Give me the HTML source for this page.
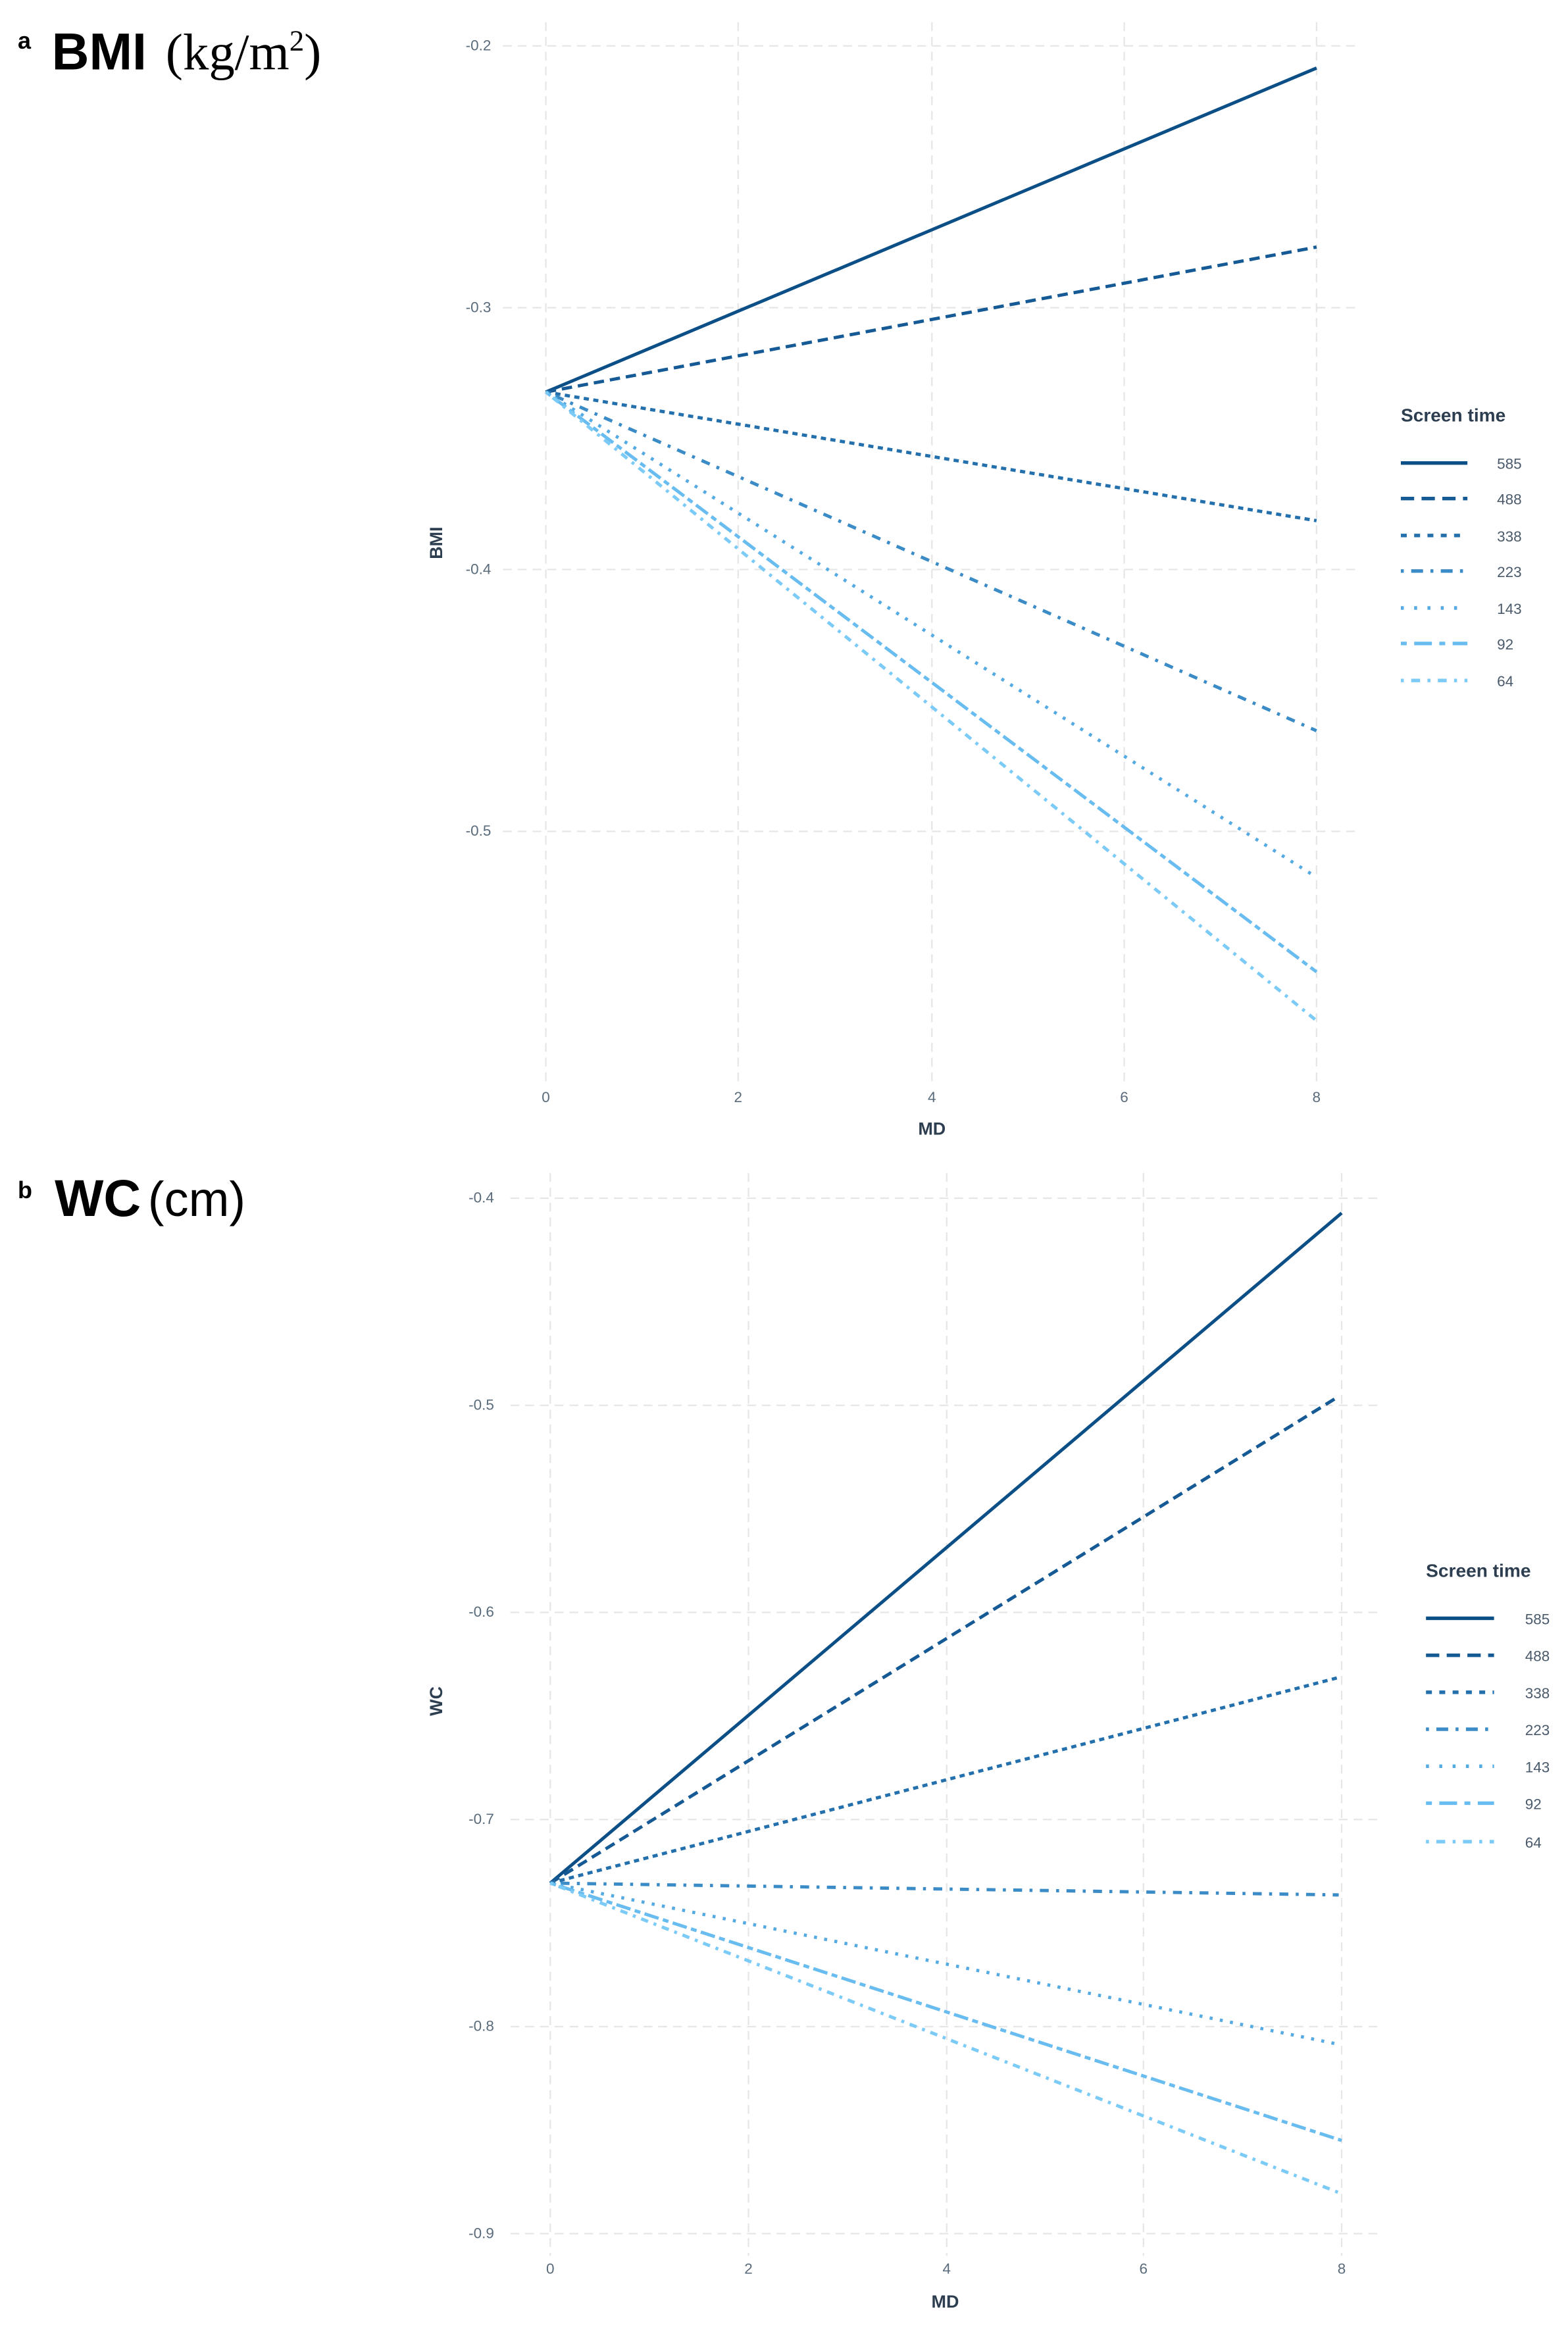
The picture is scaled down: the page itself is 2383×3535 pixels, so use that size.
<!DOCTYPE html>
<html><head><meta charset="utf-8"><style>
html,body{margin:0;padding:0;background:#fff;}
svg{display:block;}
</style></head><body>
<svg width="2383" height="3535" viewBox="0 0 1060 1572.4" xmlns="http://www.w3.org/2000/svg">
<rect width="1060" height="1572.4" fill="#fff"/>
<text x="12" y="33" font-family="Liberation Sans, sans-serif" font-weight="bold" font-size="16" fill="#000">a</text>
<text x="35" y="47" font-family="Liberation Sans, sans-serif" font-weight="bold" font-size="35" fill="#000">BMI</text>
<text x="112" y="47" font-family="Liberation Serif, serif" font-size="35" fill="#000">(kg/m<tspan font-size="20" dy="-13">2</tspan><tspan dy="13">)</tspan></text>
<text x="12" y="810" font-family="Liberation Sans, sans-serif" font-weight="bold" font-size="16" fill="#000">b</text>
<text x="37" y="822" font-family="Liberation Sans, sans-serif" font-weight="bold" font-size="35" fill="#000">WC</text>
<text x="100" y="822" font-family="Liberation Sans, sans-serif" font-size="33" fill="#000">(cm)</text>

<g font-family="Liberation Sans, sans-serif">
<g stroke="#e6e6e6" stroke-width="1" stroke-dasharray="6 4" fill="none">
<line x1="369" y1="15" x2="369" y2="732"/><line x1="499" y1="15" x2="499" y2="732"/>
<line x1="630" y1="15" x2="630" y2="732"/><line x1="760" y1="15" x2="760" y2="732"/>
<line x1="890" y1="15" x2="890" y2="732"/>
<line x1="340" y1="31" x2="918" y2="31"/><line x1="340" y1="208" x2="918" y2="208"/>
<line x1="340" y1="385" x2="918" y2="385"/><line x1="340" y1="562" x2="918" y2="562"/>
</g>
<g font-size="10" fill="#5a6b7b" text-anchor="end">
<text x="332" y="34">-0.2</text><text x="332" y="211">-0.3</text><text x="332" y="388">-0.4</text><text x="332" y="565">-0.5</text>
</g>
<g font-size="10" fill="#5a6b7b" text-anchor="middle">
<text x="369" y="745">0</text><text x="499" y="745">2</text><text x="630" y="745">4</text><text x="760" y="745">6</text><text x="890" y="745">8</text>
</g>
<text x="630" y="767" font-size="12" font-weight="bold" fill="#2d3e50" text-anchor="middle">MD</text>
<text transform="translate(299,367) rotate(-90)" font-size="12" font-weight="bold" fill="#2d3e50" text-anchor="middle">BMI</text>
<g fill="none" stroke-width="2.2">
<line x1="369" y1="265" x2="890" y2="46" stroke="#0b4f86"/>
<line x1="369" y1="265" x2="890" y2="167" stroke="#155a94" stroke-dasharray="7 4"/>
<line x1="369" y1="265" x2="890" y2="352" stroke="#2470ad" stroke-dasharray="3.5 3"/>
<line x1="369" y1="265" x2="890" y2="494" stroke="#3a8bc6" stroke-dasharray="2 5 6 5"/>
<line x1="369" y1="265" x2="890" y2="593" stroke="#55aae2" stroke-dasharray="2 5"/>
<line x1="369" y1="265" x2="890" y2="657" stroke="#68bcef" stroke-dasharray="4 3 10 3"/>
<line x1="369" y1="265" x2="890" y2="690" stroke="#7ccbf7" stroke-dasharray="2 4 5 4"/>
</g>
<text x="947" y="285" font-size="12.5" font-weight="bold" fill="#2d3e50">Screen time</text>
<g stroke-width="2.4" fill="none">
<line x1="947" y1="313" x2="992" y2="313" stroke="#0b4f86"/>
<line x1="947" y1="337" x2="992" y2="337" stroke="#155a94" stroke-dasharray="9 5"/>
<line x1="947" y1="362" x2="992" y2="362" stroke="#2470ad" stroke-dasharray="4 5"/>
<line x1="947" y1="386" x2="992" y2="386" stroke="#3a8bc6" stroke-dasharray="2 5 8 5"/>
<line x1="947" y1="411" x2="992" y2="411" stroke="#55aae2" stroke-dasharray="2 7"/>
<line x1="947" y1="435" x2="992" y2="435" stroke="#68bcef" stroke-dasharray="4 5 12 5"/>
<line x1="947" y1="460" x2="992" y2="460" stroke="#7ccbf7" stroke-dasharray="2 5 6 5"/>
</g>
<g font-size="10" fill="#4a5a6a">
<text x="1012" y="317">585</text><text x="1012" y="341">488</text><text x="1012" y="366">338</text>
<text x="1012" y="390">223</text><text x="1012" y="415">143</text><text x="1012" y="439">92</text><text x="1012" y="464">64</text>
</g>

<g stroke="#e6e6e6" stroke-width="1" stroke-dasharray="6 4" fill="none">
<line x1="372" y1="793" x2="372" y2="1525"/><line x1="506" y1="793" x2="506" y2="1525"/>
<line x1="640" y1="793" x2="640" y2="1525"/><line x1="773" y1="793" x2="773" y2="1525"/>
<line x1="907" y1="793" x2="907" y2="1525"/>
<line x1="345" y1="810" x2="935" y2="810"/><line x1="345" y1="950" x2="935" y2="950"/>
<line x1="345" y1="1090" x2="935" y2="1090"/><line x1="345" y1="1230" x2="935" y2="1230"/>
<line x1="345" y1="1370" x2="935" y2="1370"/><line x1="345" y1="1510" x2="935" y2="1510"/>
</g>
<g font-size="10" fill="#5a6b7b" text-anchor="end">
<text x="334" y="813">-0.4</text><text x="334" y="953">-0.5</text><text x="334" y="1093">-0.6</text>
<text x="334" y="1233">-0.7</text><text x="334" y="1373">-0.8</text><text x="334" y="1513">-0.9</text>
</g>
<g font-size="10" fill="#5a6b7b" text-anchor="middle">
<text x="372" y="1537">0</text><text x="506" y="1537">2</text><text x="640" y="1537">4</text><text x="773" y="1537">6</text><text x="907" y="1537">8</text>
</g>
<text x="639" y="1560" font-size="12" font-weight="bold" fill="#2d3e50" text-anchor="middle">MD</text>
<text transform="translate(299,1150) rotate(-90)" font-size="12" font-weight="bold" fill="#2d3e50" text-anchor="middle">WC</text>
<g fill="none" stroke-width="2.2">
<line x1="372" y1="1273" x2="907" y2="820" stroke="#0b4f86"/>
<line x1="372" y1="1273" x2="905" y2="944" stroke="#155a94" stroke-dasharray="7 4"/>
<line x1="372" y1="1273" x2="905" y2="1134" stroke="#2470ad" stroke-dasharray="3.5 3"/>
<line x1="372" y1="1273" x2="905" y2="1281" stroke="#3a8bc6" stroke-dasharray="2 5 6 5"/>
<line x1="372" y1="1273" x2="905" y2="1382" stroke="#55aae2" stroke-dasharray="2 5"/>
<line x1="372" y1="1273" x2="907" y2="1447" stroke="#68bcef" stroke-dasharray="4 3 10 3"/>
<line x1="372" y1="1273" x2="907" y2="1483" stroke="#7ccbf7" stroke-dasharray="2 4 5 4"/>
</g>
<text x="964" y="1066" font-size="12.5" font-weight="bold" fill="#2d3e50">Screen time</text>
<g stroke-width="2.4" fill="none">
<line x1="964" y1="1094" x2="1010" y2="1094" stroke="#0b4f86"/>
<line x1="964" y1="1119" x2="1010" y2="1119" stroke="#155a94" stroke-dasharray="9 5"/>
<line x1="964" y1="1144" x2="1010" y2="1144" stroke="#2470ad" stroke-dasharray="4 5"/>
<line x1="964" y1="1169" x2="1010" y2="1169" stroke="#3a8bc6" stroke-dasharray="2 5 8 5"/>
<line x1="964" y1="1194" x2="1010" y2="1194" stroke="#55aae2" stroke-dasharray="2 7"/>
<line x1="964" y1="1219" x2="1010" y2="1219" stroke="#68bcef" stroke-dasharray="4 5 12 5"/>
<line x1="964" y1="1245" x2="1010" y2="1245" stroke="#7ccbf7" stroke-dasharray="2 5 6 5"/>
</g>
<g font-size="10" fill="#4a5a6a">
<text x="1031" y="1098">585</text><text x="1031" y="1123">488</text><text x="1031" y="1148">338</text>
<text x="1031" y="1173">223</text><text x="1031" y="1198">143</text><text x="1031" y="1223">92</text><text x="1031" y="1249">64</text>
</g>
</g>
</svg>
</body></html>
